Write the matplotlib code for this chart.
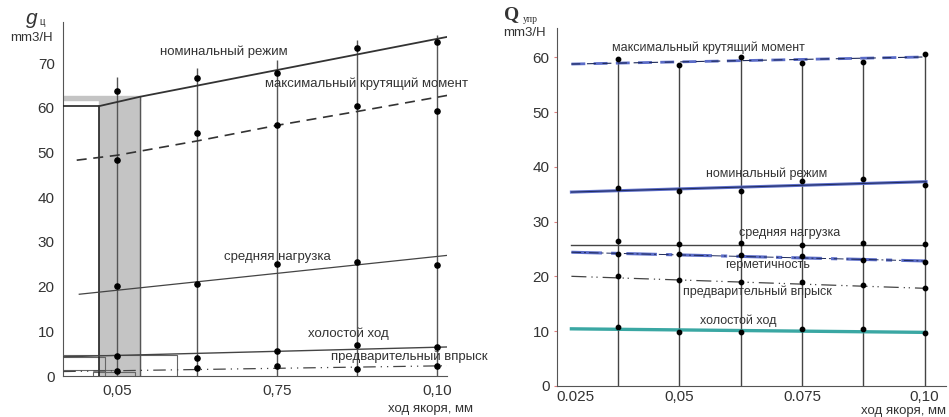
import matplotlib.pyplot as plt

# ---- left chart: g_ц vs armature stroke ----
xl = [0.05, 0.0625, 0.075, 0.0875, 0.10]
xl_ticks = [0.05, 0.075, 0.10]
xl_labels = ['0,05', '0,75', '0,10']
yl_ticks = [0, 10, 20, 30, 40, 50, 60, 70]

l_nom_pts = [63.7, 66.8, 67.7, 73.3, 74.8]
l_max_pts = [48.3, 54.4, 56.1, 60.5, 59.2]
l_avg_pts = [20.1, 20.7, 25.0, 25.6, 24.8]
l_idle_pts = [4.5, 4.0, 5.6, 6.9, 6.6]
l_pre_pts = [1.1, 1.8, 2.3, 1.5, 2.3]
l_vtop = [67.0, 68.9, 70.7, 75.2, 76.3]

# fitted lines
l_nom_x = [0.0472, 0.0536, 0.1016]
l_nom_y = [60.4, 62.5, 75.9]
l_max_x = [0.0437, 0.05, 0.0625, 0.075, 0.0875, 0.1016]
l_max_y = [48.3, 49.4, 52.6, 56.1, 59.2, 62.8]
l_avg_x = [0.0441, 0.1016]
l_avg_y = [18.3, 27.0]
l_idle_x = [0.0416, 0.1016]
l_idle_y = [4.3, 6.5]
l_pre_x = [0.0416, 0.1016]
l_pre_y = [1.0, 2.3]

# ---- right chart: Q_упр vs armature stroke ----
xr = [0.0375, 0.05, 0.0625, 0.075, 0.0875, 0.10]
xr_ticks = [0.025, 0.05, 0.075, 0.10]
xr_labels = ['0.025', '0,05', '0.075', '0,10']
yr_ticks = [0, 10, 20, 30, 40, 50, 60]

r_max_pts = [59.8, 58.6, 60.1, 59.0, 59.1, 60.7]
r_nom_pts = [36.2, 35.6, 35.6, 37.4, 37.7, 36.7]
r_avg_pts = [26.4, 25.9, 26.1, 25.65, 26.1, 25.9]
r_herm_pts = [24.1, 24.0, 23.9, 23.7, 23.0, 22.7]
r_pre_pts = [20.0, 19.3, 18.95, 18.95, 18.4, 17.85]
r_idle_pts = [10.7, 9.9, 9.85, 10.3, 10.4, 9.7]

r_fit_x = [0.028, 0.1003]
r_max_fit = [58.8, 60.1]
r_nom_fit = [35.4, 37.3]
r_avg_fit = [25.8, 25.8]
r_herm_fit = [24.4, 22.8]
r_pre_fit = [20.0, 17.8]
r_idle_fit = [10.4, 9.75]

plt.rcParams['font.family'] = ['Liberation Sans', 'DejaVu Sans']
fig = plt.figure(figsize=(9.49, 4.17), dpi=100)

# ================= left =================
ax = fig.add_axes([0.0664, 0.0983, 0.4048, 0.8487])
ax.set_xlim(0.04156, 0.10156)
ax.set_ylim(0, 79.2)
for s in ['top', 'right']:
    ax.spines[s].set_visible(False)
ax.spines['left'].set_color('#555555')
ax.spines['bottom'].set_color('#555555')

# grey rated-zone band
ax.fill_between([0.04719, 0.05359], 0, 62.5, color='#c4c4c4', zorder=1)
ax.fill_between([0.04156, 0.05359], 61.8, 62.6, color='#c4c4c4', zorder=1)
ax.plot([0.04156, 0.04719, 0.04719], [60.5, 60.5, 0], color='#222222', lw=1.2, zorder=3)
ax.plot([0.05359, 0.05359], [0, 62.5], color='#555555', lw=1.0, zorder=3)
# small boxes in the lower left corner
ax.plot([0.04156, 0.0594, 0.0594], [4.8, 4.8, 0], color='#666666', lw=0.8)
ax.plot([0.04156, 0.0481, 0.0481], [4.2, 4.2, 0], color='#666666', lw=0.8)
ax.plot([0.04156, 0.0494], [1.4, 1.4], color='#666666', lw=0.8)
ax.plot([0.0463, 0.0463, 0.0528, 0.0528], [0, 1.0, 1.0, 0], color='#666666', lw=0.8)

ax.vlines(xl, 0, l_vtop, color='#555555', lw=1.0, zorder=2)

ax.plot(l_nom_x, l_nom_y, color='#333333', lw=1.3, zorder=3)
ax.plot(l_max_x, l_max_y, color='#333333', lw=1.2, ls=(0, (6, 4)), zorder=3)
ax.plot(l_avg_x, l_avg_y, color='#444444', lw=0.9, zorder=3)
ax.plot(l_idle_x, l_idle_y, color='#444444', lw=1.0, zorder=3)
ax.plot(l_pre_x, l_pre_y, color='#444444', lw=0.9, ls=(0, (10, 4, 1, 4, 1, 4)), zorder=3)

for pts in [l_nom_pts, l_max_pts, l_avg_pts, l_idle_pts, l_pre_pts]:
    ax.scatter(xl, pts, s=14, color='black', zorder=4)

ax.set_xticks(xl_ticks)
ax.set_xticklabels(xl_labels, fontsize=11, color='#333333')
ax.set_yticks(yl_ticks)
ax.set_yticklabels([str(v) for v in yl_ticks], fontsize=11, color='#333333')
ax.tick_params(length=0, pad=6)

tk = dict(fontsize=9.5, color='#333333', ha='center', va='center', zorder=5)
ax.text(0.0666, 72.5, 'номинальный режим', **tk)
ax.text(0.0889, 65.5, 'максимальный крутящий момент', **tk)
ax.text(0.075, 26.6, 'средняя нагрузка', **tk)
ax.text(0.0861, 9.4, 'холостой ход', **tk)
ax.text(0.0956, 4.3, 'предварительный впрыск', clip_on=False, **tk)

fig.text(32 / 949, 1 - 18 / 417, 'g', fontsize=15, style='italic', color='#333333',
         ha='center', va='center')
fig.text(42 / 949, 1 - 22 / 417, 'ц', fontsize=7, color='#333333', ha='center', va='center')
fig.text(31 / 949, 1 - 38 / 417, 'mm3/H', fontsize=9.5, color='#333333', ha='center', va='center')
fig.text(431 / 949, 1 - 409 / 417, 'ход якоря, мм', fontsize=9.5, color='#333333',
         ha='center', va='center')

# ================= right =================
ax2 = fig.add_axes([0.5866, 0.075, 0.4104, 0.858])
ax2.set_xlim(0.025, 0.1044)
ax2.set_ylim(0, 65.4)
for s in ['top', 'right']:
    ax2.spines[s].set_visible(False)
ax2.spines['left'].set_color('#555555')
ax2.spines['bottom'].set_color('#555555')

ax2.vlines(xr, 0, r_max_pts, color='#444444', lw=1.0, zorder=2)

ax2.plot(r_fit_x, r_max_fit, color='#5b6cc8', lw=2.0, ls=(0, (5, 3)), zorder=3)
ax2.plot(r_fit_x, r_max_fit, color='#1e2a5a', lw=0.8, ls=(0, (8, 6)), zorder=3)
ax2.plot(r_fit_x, r_nom_fit, color='#5b6cc8', lw=2.2, zorder=3)
ax2.plot(r_fit_x, r_nom_fit, color='#1e2a5a', lw=0.7, zorder=3)
ax2.plot(r_fit_x, r_avg_fit, color='#444444', lw=1.0, zorder=3)
ax2.plot(r_fit_x, r_herm_fit, color='#5b6cc8', lw=2.2, ls=(0, (10, 3, 2, 3)), zorder=3)
ax2.plot(r_fit_x, r_herm_fit, color='#1e2a5a', lw=0.7, ls=(0, (10, 3, 2, 3)), zorder=3)
ax2.plot(r_fit_x, r_pre_fit, color='#444444', lw=0.9, ls=(0, (12, 4, 1, 3, 1, 4)), zorder=3)
ax2.plot(r_fit_x, r_idle_fit, color='#3aa7a3', lw=2.4, zorder=3)

for pts in [r_max_pts, r_nom_pts, r_avg_pts, r_herm_pts, r_pre_pts, r_idle_pts]:
    ax2.scatter(xr, pts, s=10, color='black', zorder=4)

ax2.set_xticks(xr_ticks)
ax2.set_xticklabels(xr_labels, fontsize=11, color='#333333')
ax2.get_xticklabels()[0].set_ha('left')
ax2.set_yticks(yr_ticks)
ax2.set_yticklabels([str(v) for v in yr_ticks], fontsize=11, color='#333333')
ax2.tick_params(axis='y', length=2, color='#e08080', pad=3)
ax2.tick_params(axis='x', length=0, pad=3)

tk2 = dict(tk, fontsize=9)
ax2.text(0.05585, 61.8, 'максимальный крутящий момент', **tk2)
ax2.text(0.0677, 38.8, 'номинальный режим', **tk2)
ax2.text(0.0724, 28.0, 'средняя нагрузка', **tk2)
ax2.text(0.0679, 22.05, 'герметичность', **tk2)
ax2.text(0.0660, 17.1, 'предварительный впрыск', **tk2)
ax2.text(0.0620, 11.9, 'холостой ход', **tk2)

fig.text(512 / 949, 1 - 15 / 417, 'Q', fontsize=14, family='Liberation Serif',
         weight='bold', color='#333333', ha='center', va='center')
fig.text(530 / 949, 1 - 19 / 417, 'упр', fontsize=7, family='Liberation Serif',
         color='#333333', ha='center', va='center')
fig.text(524 / 949, 1 - 33 / 417, 'mm3/H', fontsize=9.5, color='#333333', ha='center', va='center')
fig.text(946 / 949, 1 - 411 / 417, 'ход якоря, мм', fontsize=9.5, color='#333333',
         ha='right', va='center')

fig.savefig('out.png', dpi=100)
